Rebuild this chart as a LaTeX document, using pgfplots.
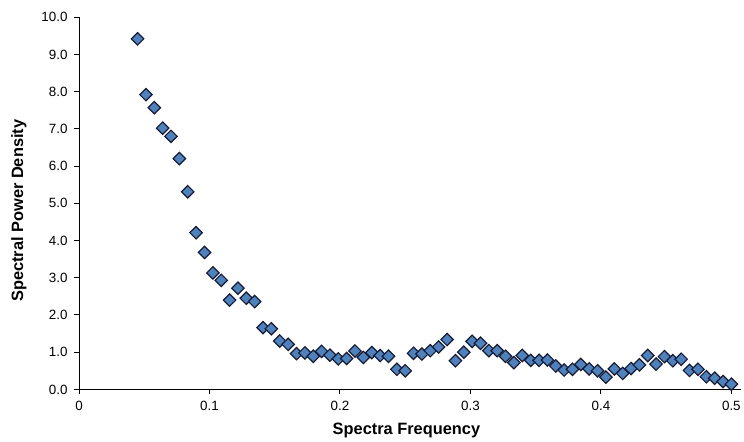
\documentclass[border=0pt]{standalone}
\usepackage{fontspec}
\setmainfont{Liberation Sans}
\usepackage{pgfplots}
\pgfplotsset{compat=1.18}
\definecolor{markfill}{RGB}{79,129,189}
\definecolor{markedge}{RGB}{22,28,52}

\pgfplotstableread{
f      psd
0.0449 9.42
0.0513 7.92
0.0577 7.57
0.0641 7.02
0.0705 6.80
0.0769 6.20
0.0833 5.31
0.0897 4.21
0.0962 3.68
0.1026 3.13
0.1090 2.93
0.1154 2.40
0.1218 2.72
0.1282 2.45
0.1346 2.36
0.1410 1.66
0.1474 1.63
0.1538 1.30
0.1603 1.21
0.1667 0.96
0.1731 0.98
0.1795 0.89
0.1859 1.02
0.1923 0.92
0.1987 0.82
0.2051 0.83
0.2115 1.03
0.2179 0.86
0.2244 0.99
0.2308 0.91
0.2372 0.89
0.2436 0.54
0.2500 0.50
0.2564 0.97
0.2628 0.95
0.2692 1.04
0.2756 1.14
0.2821 1.34
0.2885 0.77
0.2949 1.00
0.3013 1.29
0.3077 1.24
0.3141 1.04
0.3205 1.04
0.3269 0.89
0.3333 0.72
0.3397 0.91
0.3462 0.78
0.3526 0.78
0.3590 0.79
0.3654 0.63
0.3718 0.52
0.3782 0.54
0.3846 0.67
0.3910 0.55
0.3974 0.50
0.4038 0.33
0.4103 0.55
0.4167 0.43
0.4231 0.56
0.4295 0.66
0.4359 0.91
0.4423 0.68
0.4487 0.88
0.4551 0.77
0.4615 0.81
0.4679 0.51
0.4744 0.54
0.4808 0.34
0.4872 0.30
0.4936 0.21
0.5000 0.14
}\psdtable

\begin{document}
\begin{tikzpicture}
  \begin{axis}[name=ax, scale only axis, width=663.7bp, height=373.4bp,
      xmin=0, xmax=0.507, ymin=0, ymax=10, clip=false,
      axis x line*=bottom, axis y line*=left,
      axis line style={black, line width=1bp},
      tick align=outside, major tick length=5bp,
      tick style={black, line width=1bp},
      xtick={0,0.1,0.2,0.3,0.4,0.5}, xticklabels={0,0.1,0.2,0.3,0.4,0.5},
      ytick={0,1,...,10},
      yticklabel style={xshift=-3bp, /pgf/number format/.cd, fixed, fixed zerofill, precision=1},
      xticklabel style={yshift=-3bp},
      /pgf/number format/assume math mode=true,
      tick label style={font=\fontsize{13.5}{15}\selectfont},
      xlabel={\textbf{Spectra Frequency}}, ylabel={\textbf{Spectral Power Density}},
      label style={font=\fontsize{16.5}{18}\selectfont},
      xlabel style={at={(axis description cs:0.495,-0.1213)}, anchor=base},
      ylabel style={at={(axis description cs:-0.0909,0.48)}, anchor=center}]
    \addplot[only marks, mark=square*, mark size=4.4bp,
      mark options={rotate=45, fill=markfill, draw=markedge, line width=1.2bp}]
      table[x=f, y=psd] {\psdtable};
  \end{axis}
  \path ([xshift=-79.3bp,yshift=-52.3bp]ax.south west) rectangle ([xshift=1bp,yshift=17.3bp]ax.north east);
\end{tikzpicture}
\end{document}
